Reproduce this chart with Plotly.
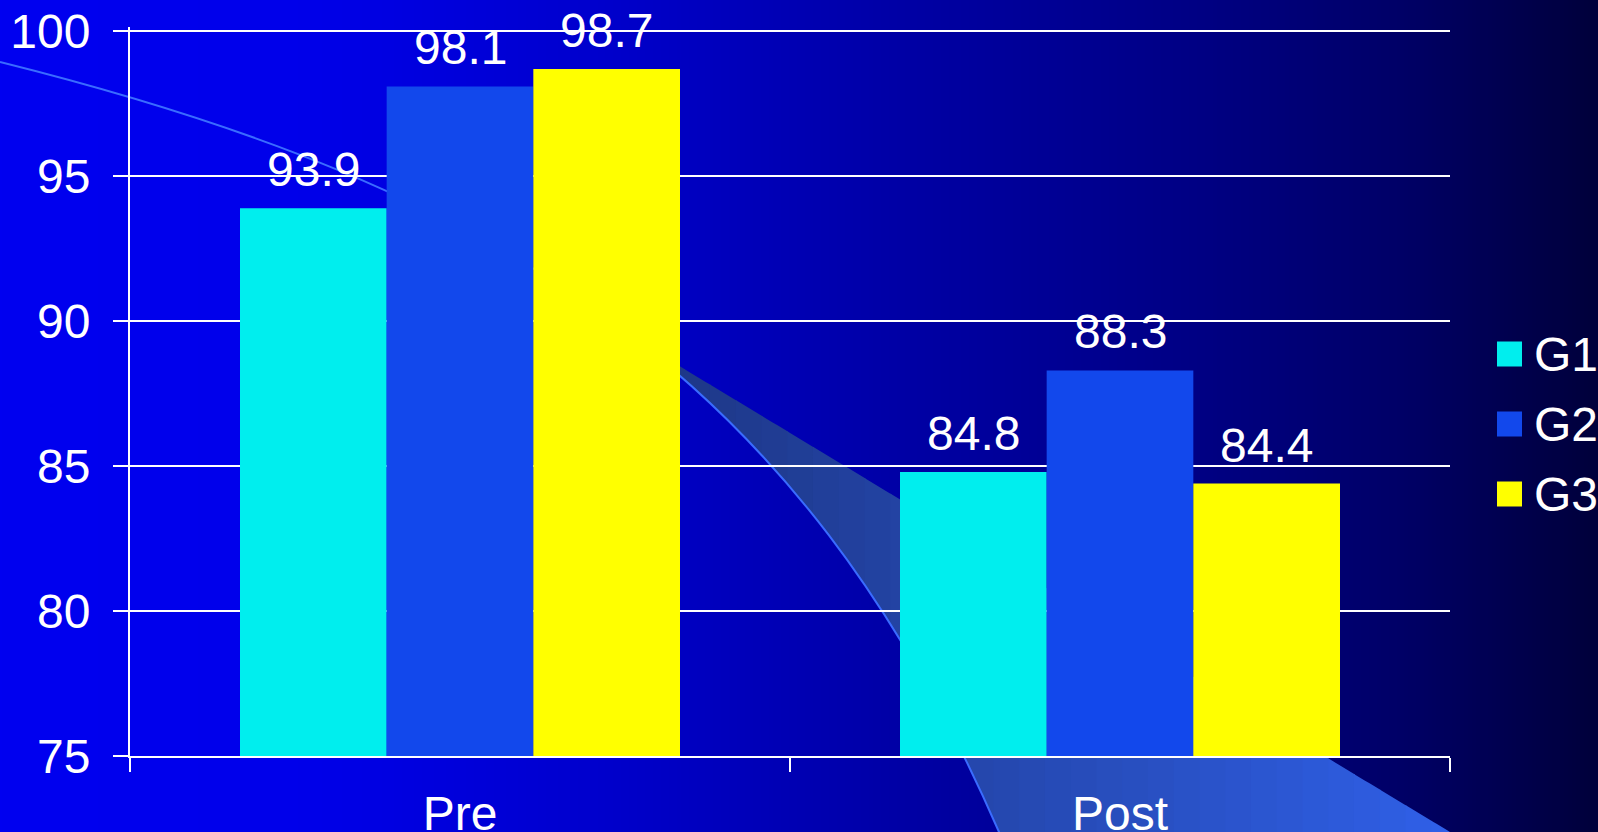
import base64
import struct
import zlib

import numpy as np
import plotly.graph_objects as go

# ---- data -------------------------------------------------------------
categories = ["Pre", "Post"]
series_names = ["G1", "G2", "G3"]
g1_values = [93.9, 84.8]
g2_values = [98.1, 88.3]
g3_values = [98.7, 84.4]
y_ticks = [75, 80, 85, 90, 95, 100]

series_values = [g1_values, g2_values, g3_values]
series_colors = ["#00eeee", "#1248ec", "#ffff00"]

# ---- canvas geometry (pixels) -----------------------------------------
W, H = 1598, 832
Y_TOP = 100.15  # a little headroom so the 100 gridline is kept
L, R, T, B = 130, 148, 27, 76
PW, PH = W - L - R, H - T - B
FONT = "Liberation Sans, Arial, sans-serif"


def px(x):
    """pixel x -> paper x"""
    return (x - L) / PW


def py(y):
    """pixel y (down) -> paper y (up)"""
    return 1 - (y - T) / PH


# ---- horizontal background gradient as a tiny PNG ----------------------
def png_data_uri(row_rgb):
    h, w = 1, row_rgb.shape[0]
    raw = b"\x00" + row_rgb.astype(np.uint8).tobytes()

    def chunk(tag, data):
        c = struct.pack(">I", len(data)) + tag + data
        return c + struct.pack(">I", zlib.crc32(tag + data) & 0xFFFFFFFF)

    png = b"\x89PNG\r\n\x1a\n"
    png += chunk(b"IHDR", struct.pack(">IIBBBBB", w, h, 8, 2, 0, 0, 0))
    png += chunk(b"IDAT", zlib.compress(raw, 9))
    png += chunk(b"IEND", b"")
    return "data:image/png;base64," + base64.b64encode(png).decode()


gx = np.linspace(0, W, 400)
stop_x = [0, 300, 600, 900, 1200, 1400, 1598]
stop_b = [240, 234, 205, 166, 132, 104, 60]
row = np.zeros((gx.size, 3))
row[:, 2] = np.interp(gx, stop_x, stop_b)
bg_uri = png_data_uri(row)

# ---- decorative swoosh: a curved edge plus a straight edge -------------
P0, P1, P2, P3 = (0, 62), (500, 187), (799, 372), (999, 832)


def bezier(t):
    t = np.asarray(t)[:, None]
    pts = np.array([P0, P1, P2, P3], dtype=float)
    return ((1 - t) ** 3 * pts[0] + 3 * (1 - t) ** 2 * t * pts[1]
            + 3 * (1 - t) * t ** 2 * pts[2] + t ** 3 * pts[3])


curve = bezier(np.linspace(0, 1, 400))


def arc_y(x):
    return np.interp(x, curve[:, 0], curve[:, 1], right=5000)


def line_y(x):
    return 367 + (np.asarray(x) - 681) * (465 / 769)


xs = np.linspace(300, 1000, 2000)
x_meet = xs[np.argmin(np.abs(arc_y(xs) - line_y(xs)))]

shapes = []
strip_edges = np.linspace(x_meet, 1560, 46)
c_left, c_right = np.array([30, 56, 136]), np.array([48, 96, 232])
for xa, xb in zip(strip_edges[:-1], strip_edges[1:]):
    xb2 = xb + 1.0
    sx = np.linspace(xa, xb2, 6)
    top = line_y(sx)
    bot = np.minimum(arc_y(sx), 900)
    bot = np.maximum(bot, top)
    pts = list(zip(sx, top)) + list(zip(sx[::-1], bot[::-1]))
    path = "M " + " L ".join(f"{px(a):.5f},{py(b):.5f}" for a, b in pts) + " Z"
    f = np.clip(((xa + xb) / 2 - 680) / (1450 - 680), 0, 1)
    c = (c_left + f * (c_right - c_left)).astype(int)
    shapes.append(dict(type="path", path=path, xref="paper", yref="paper",
                       fillcolor=f"rgb({c[0]},{c[1]},{c[2]})",
                       line=dict(width=0), layer="below"))

arc_path = (f"M {px(P0[0]):.5f},{py(P0[1]):.5f} "
            f"C {px(P1[0]):.5f},{py(P1[1]):.5f} {px(P2[0]):.5f},{py(P2[1]):.5f} "
            f"{px(P3[0]):.5f},{py(P3[1]):.5f} L {px(1012):.5f},{py(862):.5f}")
shapes.append(dict(type="path", path=arc_path, xref="paper", yref="paper",
                   line=dict(color="#3a6cff", width=2), layer="below"))

# ---- bars ---------------------------------------------------------------
fig = go.Figure()
for name, vals, col in zip(series_names, series_values, series_colors):
    fig.add_trace(go.Bar(name=name, x=categories, y=vals,
                         marker=dict(color=col, line=dict(width=0)),
                         showlegend=False))

# value labels above each bar
n = len(series_names)
bargap = 1 / 3
bw = (1 - bargap) / n
annotations = []
for i, vals in enumerate(series_values):
    off = (i - (n - 1) / 2) * bw
    for j, v in enumerate(vals):
        annotations.append(dict(x=j + off, y=v, xref="x", yref="y",
                                text=f"{v:.1f}", showarrow=False,
                                yanchor="bottom", yshift=10,
                                font=dict(family=FONT, size=48, color="white")))

# legend: square swatches with labels at the right edge
legend_rows = [354, 424, 494]
for name, col, yc in zip(series_names, series_colors, legend_rows):
    shapes.append(dict(type="rect", xref="paper", yref="paper",
                       x0=px(1497), x1=px(1522), y0=py(yc - 12.5), y1=py(yc + 12.5),
                       fillcolor=col, line=dict(width=0), layer="above"))
    annotations.append(dict(x=px(1532), y=py(yc), xref="paper", yref="paper",
                            text=name, showarrow=False, xanchor="left",
                            yanchor="middle",
                            font=dict(family=FONT, size=48, color="white")))

fig.update_layout(
    width=W, height=H,
    margin=dict(l=L, r=R, t=T, b=B, pad=0, autoexpand=False),
    paper_bgcolor="#0000a0",
    plot_bgcolor="rgba(0,0,0,0)",
    barmode="group", bargap=bargap, bargroupgap=0,
    font=dict(family=FONT, size=48, color="white"),
    showlegend=False,
    shapes=shapes,
    annotations=annotations,
    images=[dict(source=bg_uri, xref="paper", yref="paper",
                 x=px(0), y=py(0), sizex=W / PW, sizey=H / PH,
                 xanchor="left", yanchor="top", sizing="stretch",
                 layer="below")],
)
fig.update_xaxes(showline=True, linecolor="white", linewidth=2,
                 ticks="outside", tickson="boundaries", ticklen=14,
                 tickwidth=2, tickcolor="white", ticklabelstandoff=14,
                 tickfont=dict(family=FONT, size=48, color="white"),
                 showgrid=False, zeroline=False, automargin=False)
fig.update_yaxes(range=[75, Y_TOP], tickvals=y_ticks, showline=True,
                 linecolor="white", linewidth=2, ticks="outside", ticklen=15,
                 tickwidth=2, tickcolor="white", ticklabelstandoff=13,
                 showgrid=True, gridcolor="white", gridwidth=2,
                 tickfont=dict(family=FONT, size=48, color="white"),
                 zeroline=False, automargin=False)

fig.write_html("out.html")
